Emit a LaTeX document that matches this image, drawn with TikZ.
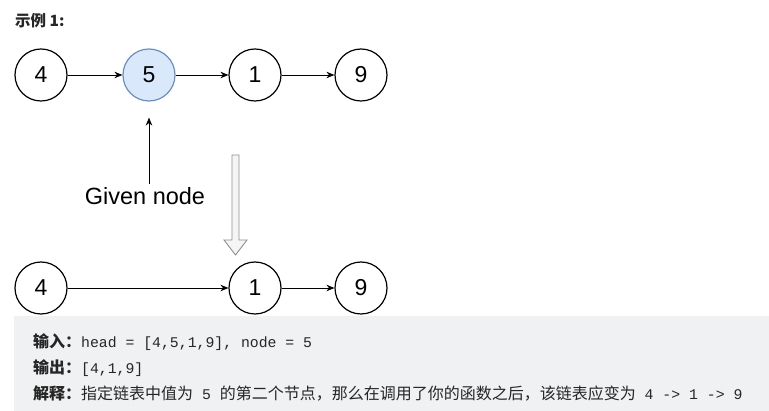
\documentclass[tikz,border=0pt]{standalone}
\usepackage{fontspec}
\setmainfont{Liberation Sans}
\setmonofont{Liberation Mono}
\newfontfamily\cjk{Noto Sans CJK SC}
\usetikzlibrary{arrows.meta}
\definecolor{selfill}{HTML}{DAE8FC}
\definecolor{seldraw}{HTML}{6C8EBF}
\definecolor{boxgray}{HTML}{F0F1F3}
\definecolor{txtgray}{HTML}{262626}
\definecolor{hollowfill}{HTML}{F5F5F5}
\definecolor{hollowdraw}{HTML}{8F8F8F}
\newcommand{\cnfont}{\cjk\fontsize{16}{18}\selectfont}
\newcommand{\codefont}{\ttfamily\fontsize{14.8}{16}\selectfont}
\newcommand{\codeline}[3]{% name, y, text
	\node[anchor=west,inner sep=0pt,text=txtgray] (#1) at (33,#2) {#3};
	}
\tikzset{
	lnode/.style={circle,draw,line width=1.2pt,minimum size=52pt,inner sep=0pt,font=\fontsize{23}{23}\selectfont},
	ptr/.style={-{Stealth[length=8pt,width=6.5pt]},line width=0.9pt},
	hollow/.style={fill=hollowfill,draw=hollowdraw,line width=0.9pt,line join=miter}
}
\begin{document}
\begin{tikzpicture}[x=1pt,y=-1pt]
	\useasboundingbox (0,0) rectangle (769,411);
	\fill[boxgray] (14,316) rectangle (769,411);
	\node[anchor=west,inner sep=0pt,text=txtgray] (title) at (15,21) {\cjk\fontsize{15.5}{17}\selectfont\bfseries 示例 1:};
	% before
	\node[lnode] (a4) at (41,75) {4};
	\node[lnode,fill=selfill,draw=seldraw] (a5) at (149,75) {5};
	\node[lnode] (a1) at (255,75) {1};
	\node[lnode] (a9) at (361,75) {9};
	\draw[ptr] (a4)--(a5);
	\draw[ptr] (a5)--(a1);
	\draw[ptr] (a1)--(a9);
	\node[inner sep=0pt,font=\fontsize{23.5}{24}\selectfont] (given) at (145,196) {Given node};
	\draw[ptr] ([yshift=3pt]given.north -| a5) -- ([yshift=-16pt]a5.south);
	% after
	\draw[hollow] (232,155)--(239,155)--(239,240)--(247,240)--(235.5,255)--(224,240)--(232,240)--cycle;
	\node[lnode] (b4) at (41,288) {4};
	\node[lnode] (b1) at (255,288) {1};
	\node[lnode] (b9) at (361,288) {9};
	\draw[ptr] (b4)--(b1);
	\draw[ptr] (b1)--(b9);
	% example text
	\codeline{inp}{342}{{\cnfont\bfseries 输入：}{\codefont head = [4,5,1,9], node = 5}}
	\codeline{outp}{368}{{\cnfont\bfseries 输出：}{\codefont [4,1,9]}}
	\codeline{expl}{394}{{\cnfont\bfseries 解释：}{\cnfont 指定链表中值为}{\codefont\ 5\ }{\cnfont 的第二个节点，那么在调用了你的函数之后，该链表应变为}{\codefont\ 4 -> 1 -> 9}}
\end{tikzpicture}
\end{document}
